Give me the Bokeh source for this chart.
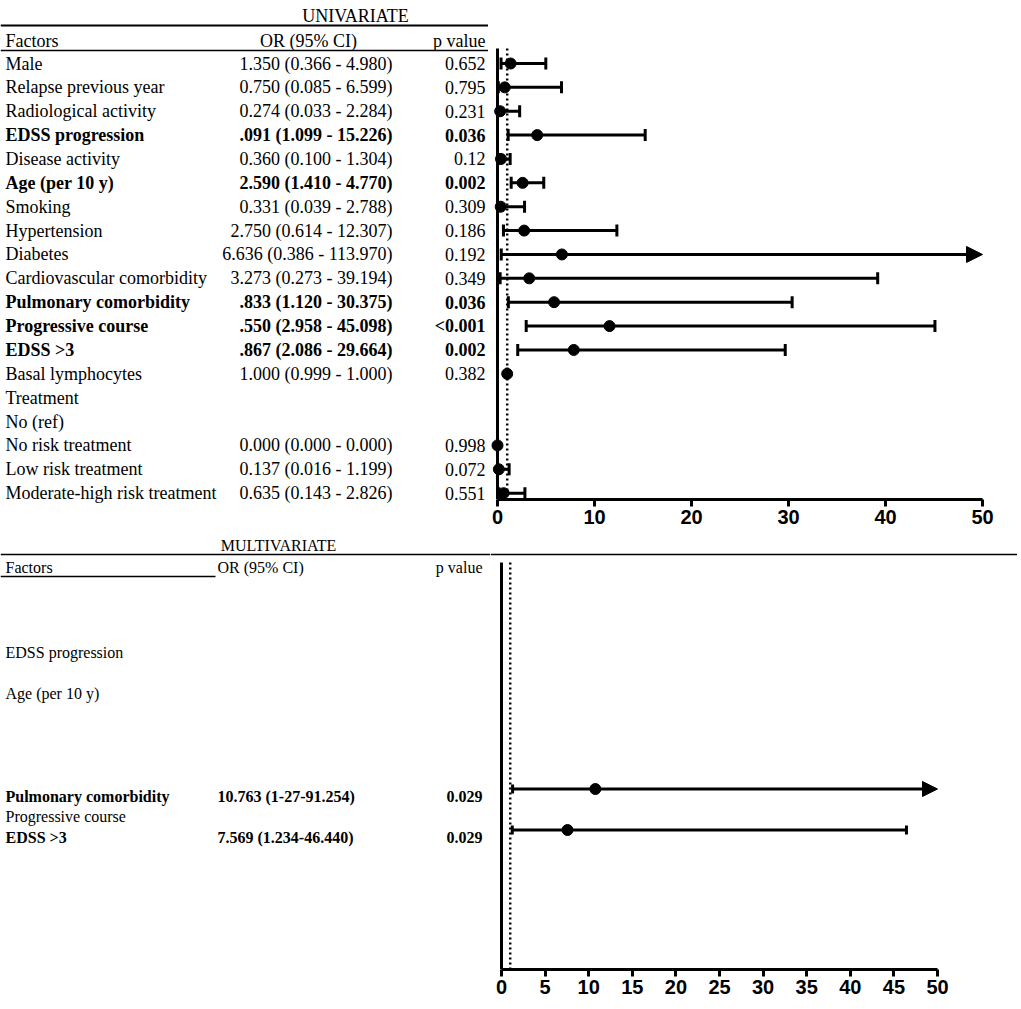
import numpy as np
from bokeh.plotting import figure
from bokeh.models import (Range1d, LinearAxis, FixedTicker, Span, ColumnDataSource,
                          Arrow, NormalHead)
from bokeh.layouts import column, row
from bokeh.core.properties import value, field
from bokeh.embed import file_html
from bokeh.resources import INLINE

# ---------------- data ----------------
uni_factors = ["Male", "Relapse previous year", "Radiological activity", "EDSS progression",
               "Disease activity", "Age (per 10 y)", "Smoking", "Hypertension", "Diabetes",
               "Cardiovascular comorbidity", "Pulmonary comorbidity", "Progressive course",
               "EDSS >3", "Basal lymphocytes", "Treatment", "No (ref)", "No risk treatment",
               "Low risk treatment", "Moderate-high risk treatment"]
uni_or = [1.350, 0.750, 0.274, 4.091, 0.360, 2.590, 0.331, 2.750, 6.636, 3.273, 5.833,
          11.550, 7.867, 1.000, None, None, 0.000, 0.137, 0.635]
uni_lo = [0.366, 0.085, 0.033, 1.099, 0.100, 1.410, 0.039, 0.614, 0.386, 0.273, 1.120,
          2.958, 2.086, 0.999, None, None, 0.000, 0.016, 0.143]
uni_hi = [4.980, 6.599, 2.284, 15.226, 1.304, 4.770, 2.788, 12.307, 113.970, 39.194, 30.375,
          45.098, 29.664, 1.000, None, None, 0.000, 1.199, 2.826]
uni_or_text = ["1.350 (0.366 - 4.980)", "0.750 (0.085 - 6.599)", "0.274 (0.033 - 2.284)",
               ".091 (1.099 - 15.226)", "0.360 (0.100 - 1.304)", "2.590 (1.410 - 4.770)",
               "0.331 (0.039 - 2.788)", "2.750 (0.614 - 12.307)", "6.636 (0.386 - 113.970)",
               "3.273 (0.273 - 39.194)", ".833 (1.120 - 30.375)", ".550 (2.958 - 45.098)",
               ".867 (2.086 - 29.664)", "1.000 (0.999 - 1.000)", "", "",
               "0.000 (0.000 - 0.000)", "0.137 (0.016 - 1.199)", "0.635 (0.143 - 2.826)"]
uni_p = ["0.652", "0.795", "0.231", "0.036", "0.12", "0.002", "0.309", "0.186", "0.192",
         "0.349", "0.036", "<0.001", "0.002", "0.382", "", "", "0.998", "0.072", "0.551"]

multi_factors = ["EDSS progression", "", "Age (per 10 y)", "", "", "", "",
                 "Pulmonary comorbidity", "Progressive course", "EDSS >3"]
multi_or = [None, None, None, None, None, None, None, 10.763, None, 7.569]
multi_lo = [None, None, None, None, None, None, None, 1.27, None, 1.234]
multi_hi = [None, None, None, None, None, None, None, 91.254, None, 46.440]
multi_or_text = ["", "", "", "", "", "", "", "10.763 (1-27-91.254)", "", "7.569 (1.234-46.440)"]
multi_p = ["", "", "", "", "", "", "", "0.029", "", "0.029"]

top_ticks = [0, 10, 20, 30, 40, 50]
bottom_ticks = [0, 5, 10, 15, 20, 25, 30, 35, 40, 45, 50]
AXIS_MAX = 50
REF_LINE = 1

SERIF = "Liberation Serif"
SANS = "Liberation Sans"


def p_num(s):
    if s == "":
        return None
    if s.startswith("<"):
        return float(s[1:]) / 2
    return float(s)


# ---------------- layout helpers (page pixel -> row units) ----------------
TOP_ROW0, TOP_STEP = 63.0, 23.87      # page y of first univariate row, row spacing
BOT_ROW0, BOT_STEP = 652.0, 20.5      # page y of first multivariate slot, spacing
BOT_PLOT_SHIFT = -7.0                 # plot rows sit slightly above the text rows


def trow(ypx):
    return (ypx - TOP_ROW0) / TOP_STEP


def brow(ypx):
    return (ypx - BOT_ROW0) / BOT_STEP


def brow_plot(ypx):
    return (ypx - BOT_ROW0 - BOT_PLOT_SHIFT) / BOT_STEP


def blank_fig(width, height, xr, yr, bottom=0):
    f = figure(width=width, height=height, x_range=xr, y_range=yr,
               x_axis_location=None, y_axis_location=None, toolbar_location=None,
               output_backend="svg", min_border_left=0, min_border_right=0,
               min_border_top=0, min_border_bottom=bottom, outline_line_color=None)
    f.grid.visible = False
    return f


def style_axis(ax, size):
    ax.axis_line_width = 3
    ax.axis_line_color = "black"
    ax.major_tick_line_width = 3
    ax.major_tick_line_color = "black"
    ax.major_tick_out = 7
    ax.major_tick_in = 0
    ax.minor_tick_line_color = None
    ax.major_label_text_font = SANS
    ax.major_label_text_font_style = "bold"
    ax.major_label_text_font_size = size
    ax.major_label_text_color = "black"
    ax.major_label_standoff = 3


def forest(p, ys, ors, los, his, cap, dot, head):
    valid = [i for i, o in enumerate(ors) if o is not None]
    y = [ys[i] for i in valid]
    o = [ors[i] for i in valid]
    lo = [los[i] for i in valid]
    hi = [his[i] for i in valid]
    clip = [h > AXIS_MAX for h in hi]
    seg = ColumnDataSource(dict(x0=[l for l, c in zip(lo, clip) if not c],
                                x1=[h for h, c in zip(hi, clip) if not c],
                                y=[v for v, c in zip(y, clip) if not c]))
    p.segment(x0="x0", x1="x1", y0="y", y1="y", source=seg, line_width=3, line_color="black")
    arr = ColumnDataSource(dict(x0=[l for l, c in zip(lo, clip) if c],
                                x1=[AXIS_MAX for c in clip if c],
                                y=[v for v, c in zip(y, clip) if c]))
    p.add_layout(Arrow(end=NormalHead(size=head, fill_color="black", line_color="black"),
                       x_start="x0", y_start="y", x_end="x1", y_end="y", source=arr,
                       line_width=3, line_color="black"))
    p.scatter(x=lo, y=y, marker="dash", angle=np.pi / 2, size=cap, line_width=3,
              line_color="black")
    p.scatter(x=[h for h, c in zip(hi, clip) if not c], y=[v for v, c in zip(y, clip) if not c],
              marker="dash", angle=np.pi / 2, size=cap, line_width=3, line_color="black")
    p.scatter(x=o, y=y, marker="circle", size=dot, fill_color="black", line_color="black")


# ================= UNIVARIATE =================
AX1 = 499                 # page y of the x axis
H1, BB1 = 537, 38
# the text panel sits in its own column so that its frame can run to the panel bottom
t1 = blank_fig(488, H1, Range1d(0, 488), Range1d(trow(H1), trow(0)), bottom=0)
idx = list(range(len(uni_factors)))
styles = ["bold" if (p_num(s) is not None and p_num(s) < 0.05) else "normal" for s in uni_p]
src1 = ColumnDataSource(dict(y=idx, f=uni_factors, o=uni_or_text, p=uni_p, s=styles))
common = dict(text_font=value(SERIF), text_font_size="18px", text_baseline="middle",
              text_color="black")
t1.text(x=5, y="y", text="f", source=src1, text_align="left", text_font_style=field("s"), **common)
t1.text(x=392, y="y", text="o", source=src1, text_align="right", text_font_style=field("s"), **common)
t1.text(x=485, y="y", text="p", source=src1, text_align="right", text_font_style=field("s"), **common)
t1.text(x=[355], y=[trow(15)], text=["UNIVARIATE"], text_align="center", **common)
t1.text(x=[5], y=[trow(40)], text=["Factors"], text_align="left", **common)
t1.text(x=[308], y=[trow(40)], text=["OR (95% CI)"], text_align="center", **common)
t1.text(x=[485], y=[trow(40)], text=["p value"], text_align="right", **common)
t1.segment(x0=[0], x1=[488], y0=[trow(25)], y1=[trow(25)], line_width=2, line_color="black")
t1.segment(x0=[0], x1=[488], y0=[trow(50)], y1=[trow(50)], line_width=1.5, line_color="black")

W1 = 529
p1 = blank_fig(W1, H1, Range1d(-9 / 9.7, (W1 - 9) / 9.7), Range1d(trow(AX1), trow(0)),
               bottom=BB1)
ax1 = LinearAxis(ticker=FixedTicker(ticks=top_ticks), bounds=(0, AXIS_MAX))
style_axis(ax1, "20px")
p1.add_layout(ax1, "below")
p1.segment(x0=[0], x1=[0], y0=[trow(48)], y1=[trow(AX1)], line_width=3, line_color="black")
p1.segment(x0=[REF_LINE], x1=[REF_LINE], y0=[trow(48)], y1=[trow(AX1)], line_width=2.5,
           line_color="black", line_dash="2 3")
forest(p1, idx, uni_or, uni_lo, uni_hi, cap=12, dot=11, head=16)

# ================= MULTIVARIATE =================
TOP2, AX2 = 537, 969
H2, BB2 = 470, 38
t2 = blank_fig(490, H2, Range1d(0, 490), Range1d(brow(AX2), brow(TOP2)), bottom=BB2)
sidx = list(range(len(multi_factors)))
mstyles = ["bold" if (p_num(s) is not None and p_num(s) < 0.05) else "normal" for s in multi_p]
src2 = ColumnDataSource(dict(y=sidx, f=multi_factors, o=multi_or_text, p=multi_p, s=mstyles))
common2 = dict(text_font=value(SERIF), text_font_size="16px", text_baseline="middle",
               text_color="black")
t2.text(x=5, y="y", text="f", source=src2, text_align="left", text_font_style=field("s"), **common2)
t2.text(x=217, y="y", text="o", source=src2, text_align="left", text_font_style=field("s"), **common2)
t2.text(x=482, y="y", text="p", source=src2, text_align="right", text_font_style=field("s"), **common2)
t2.text(x=[278], y=[brow(545)], text=["MULTIVARIATE"], text_align="center", **common2)
t2.text(x=[5], y=[brow(567)], text=["Factors"], text_align="left", **common2)
t2.text(x=[217], y=[brow(567)], text=["OR (95% CI)"], text_align="left", **common2)
t2.text(x=[482], y=[brow(567)], text=["p value"], text_align="right", **common2)
t2.segment(x0=[0], x1=[490], y0=[brow(554)], y1=[brow(554)], line_width=1.5, line_color="black")
t2.segment(x0=[0], x1=[215], y0=[brow(576)], y1=[brow(576)], line_width=1.5, line_color="black")

W2 = 527
p2 = blank_fig(W2, H2, Range1d(-11 / 8.72, (W2 - 11) / 8.72),
               Range1d(brow_plot(AX2), brow_plot(TOP2)), bottom=BB2)
ax2 = LinearAxis(ticker=FixedTicker(ticks=bottom_ticks), bounds=(0, AXIS_MAX))
style_axis(ax2, "20px")
p2.add_layout(ax2, "below")
p2.add_layout(Span(location=brow_plot(554), dimension="width", line_width=1.5,
                   line_color="black"))
p2.segment(x0=[0], x1=[0], y0=[brow_plot(562)], y1=[brow_plot(AX2)], line_width=3,
           line_color="black")
p2.segment(x0=[REF_LINE], x1=[REF_LINE], y0=[brow_plot(562)], y1=[brow_plot(AX2)],
           line_width=2.5, line_color="black", line_dash="2 3")
forest(p2, sidx, multi_or, multi_lo, multi_hi, cap=9, dot=11, head=15)

layout = column(row(column(t1), p1, spacing=0), row(t2, p2, spacing=0), spacing=0)
open("out.html", "w").write(file_html(layout, INLINE))
